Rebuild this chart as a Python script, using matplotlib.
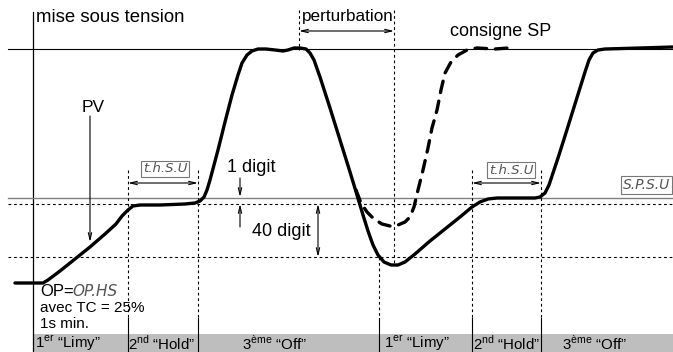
import matplotlib.pyplot as plt
from matplotlib import font_manager
from matplotlib.patches import Rectangle

pv_x = [15, 43, 48, 60, 75, 90, 105, 116, 122, 128, 133, 140, 160, 185, 195, 200, 204, 207, 210, 214,
        218, 225, 232, 238, 242, 247, 252, 258, 266, 275, 283, 288, 294, 300, 306, 310, 314, 320, 330,
        340, 350, 357, 363, 368, 373, 378, 384, 391, 398, 405, 415, 430, 445, 460, 472, 480, 488, 497,
        520, 535, 540, 545, 549, 553, 558, 565, 575, 585, 589, 593, 598, 605, 640, 673]
pv_y = [283, 283, 280, 271, 259, 247, 234, 224, 216, 210, 206, 205, 205, 204, 203, 201, 197, 190, 180, 165,
        150, 122, 95, 75, 63, 55, 51, 49, 49, 50, 51, 50, 48, 48, 49, 53, 60, 77, 108,
        140, 172, 195, 215, 231, 245, 255, 262, 265, 265, 262, 254, 241, 229, 217, 207, 202, 199, 198,
        198, 198, 197, 193, 185, 173, 158, 136, 104, 72, 60, 53, 50, 49, 48, 47]

# courbe consigne SP (pointillés)
sp_x = [356, 361, 367, 374, 382, 390, 398, 405, 410, 414, 418, 423, 428, 432, 437, 441, 445, 451, 458,
        467, 477, 495, 508]
sp_y = [190, 203, 212, 219, 224, 226, 225, 222, 217, 207, 190, 170, 148, 128, 110, 90, 73, 62, 55,
        50, 48, 49, 48]

# niveaux horizontaux
sp_high = 49
sp_low = 198
band1 = 204
band40 = 257

# limites des phases (bandeau du bas)
phase_edges = [33, 128, 198, 379, 472, 541, 673]
phase_num = ['1', '2', '3', '1', '2', '3']
phase_sup = ['er', 'nd', 'ème', 'er', 'nd', 'ème']
phase_name = ['“Limy”', '“Hold”', '“Off”', '“Limy”', '“Hold”', '“Off”']
phase_centre = [68, 162, 275, 417, 507, 595]

names = {f.name for f in font_manager.fontManager.ttflist}
narrow = 'Liberation Sans Narrow' if 'Liberation Sans Narrow' in names else 'Liberation Sans'
plt.rcParams['font.family'] = ['Liberation Sans', 'DejaVu Sans']
plt.rcParams['mathtext.fontset'] = 'custom'
plt.rcParams['mathtext.rm'] = narrow

fig = plt.figure(figsize=(6.73, 3.52), dpi=100)
ax = fig.add_axes([0, 0, 1, 1])
ax.set_xlim(0, 673)
ax.set_ylim(352, 0)
ax.axis('off')

# bandeau gris
ax.add_patch(Rectangle((phase_edges[0], 334), phase_edges[-1] - phase_edges[0], 18,
                       fc='#bebebe', ec='none', zorder=0))

# axes et niveaux
ax.plot([33, 33], [12, 352], color='black', lw=0.9)
ax.plot([8, 673], [sp_high, sp_high], color='black', lw=0.8)
ax.plot([8, 673], [sp_low, sp_low], color='#808080', lw=1.0)
dot = dict(color='black', lw=0.8, dashes=(2.5, 2.5))
ax.plot([8, 673], [band1, band1], **dot)
ax.plot([8, 673], [band40, band40], **dot)

# verticales
ax.plot([299, 299], [10, 50], **dot)
ax.plot([394, 394], [10, 265], **dot)
ax.plot([379, 379], [257, 318], **dot)
for x in [128, 198, 472, 541]:
    ax.plot([x, x], [170, 318], **dot)
for x in phase_edges[1:-1]:
    ax.plot([x, x], [318, 352], color='black', lw=0.8)

# courbes
ax.plot(pv_x, pv_y, color='black', lw=2.4, solid_capstyle='round', solid_joinstyle='round')
ax.plot(sp_x, sp_y, color='black', lw=2.4, dashes=(3.5, 2.6), dash_capstyle='round')

# flèches
arr = dict(arrowstyle='<->,head_length=0.5,head_width=0.12', color='black', lw=0.8,
           shrinkA=0, shrinkB=0)
ax.annotate('', xy=(299, 31), xytext=(394, 31), arrowprops=arr)
ax.annotate('', xy=(128, 183), xytext=(198, 183), arrowprops=arr)
ax.annotate('', xy=(472, 183), xytext=(541, 183), arrowprops=arr)
ax.annotate('', xy=(318, 204), xytext=(318, 257), arrowprops=arr)
one = dict(arrowstyle='->,head_length=0.5,head_width=0.12', color='black', lw=0.8,
           shrinkA=0, shrinkB=0)
ax.annotate('', xy=(240, 197), xytext=(240, 178), arrowprops=one)
ax.annotate('', xy=(240, 204), xytext=(240, 227), arrowprops=one)
ax.annotate('', xy=(90, 242), xytext=(90, 116), arrowprops=one)

# textes
ax.text(36, 17, 'mise sous tension', fontsize=13.4, va='center')
ax.text(302, 17, 'perturbation', fontsize=12.3, va='center')
ax.text(450, 32, 'consigne SP', fontsize=13, va='center')
ax.text(82, 107, 'PV', fontsize=12.5, va='center')
ax.text(227, 168, '1 digit', fontsize=13, va='center')
ax.text(252, 232, '40 digit', fontsize=13, va='center')
ax.text(40, 292, 'OP=', fontsize=12, va='center')
ax.text(40, 308, 'avec TC = 25%', fontsize=11, va='center')
ax.text(40, 324, '1s min.', fontsize=11, va='center')

seg = dict(family='DejaVu Sans', style='oblique', color='#555555', va='center')
ax.text(72, 292, 'OP.HS', fontsize=11, **seg)
box = dict(boxstyle='square,pad=0.15', fc='white', ec='#777777', lw=0.8)
ax.text(165, 169, 't.h.S.U', fontsize=9.5, ha='center', bbox=box, **seg)
ax.text(511, 170, 't.h.S.U', fontsize=9.5, ha='center', bbox=box, **seg)
ax.text(670, 185, 'S.P.S.U', fontsize=10, ha='right', bbox=box, **seg)

for c, n, s, name in zip(phase_centre, phase_num, phase_sup, phase_name):
    ax.text(c, 343, n + r'$^{\mathrm{' + s + '}}$ ' + name, fontsize=10.8, family=narrow,
            ha='center', va='center')

fig.savefig('out.png', dpi=100)
